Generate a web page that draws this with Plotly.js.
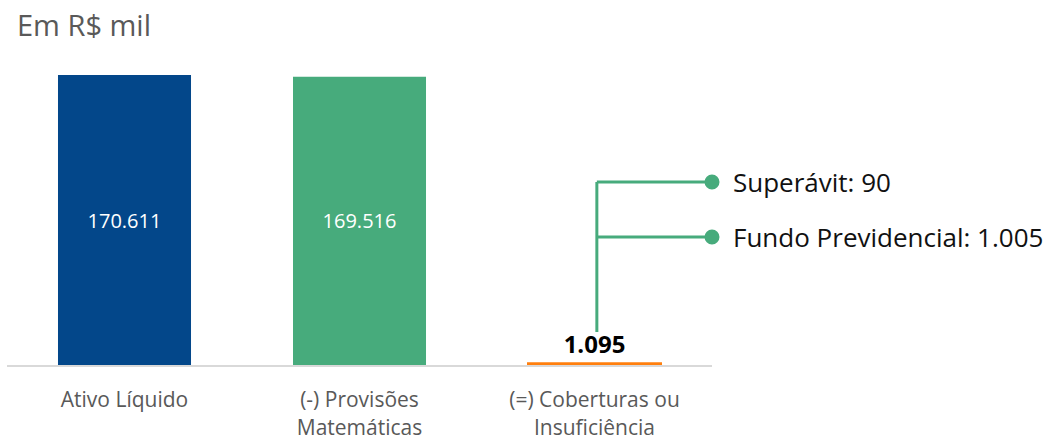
<!DOCTYPE html>
<html>
<head>
<meta charset="utf-8">
<script src="https://cdn.plot.ly/plotly-3.0.1.min.js"></script>
<style>html,body{margin:0;padding:0;background:#fff;}#chart{width:1051px;height:439px;}</style>
</head>
<body>
<div id="chart"></div>
<script>
// ---- data ----
const categories = ['Ativo Líquido', '(-) Provisões<br>Matemáticas', '(=) Coberturas ou<br>Insuficiência'];
const values = [170611, 169516, 1095];
const barColors = ['#03478A', '#47AB7C', '#FF7F0E'];
const breakdownLabels = ['Superávit', 'Fundo Previdencial'];
const breakdownValues = [90, 1005];
const unitLabel = 'Em R$ mil';

function fmt(n) {
  return String(Math.round(n)).replace(/\B(?=(\d{3})+(?!\d))/g, '.');
}

// plot area geometry (pixels)
const H = 439, TOP = 60, BOTTOM = 365;
const py = p => (BOTTOM - p) / (BOTTOM - TOP); // pixel y -> paper y
const green = '#47AB7C';
const lineX = 2.01;
const endX = 2.5;
const rowY = [py(182), py(237)];

const trace = {
  type: 'bar',
  x: categories,
  y: values,
  marker: {
    color: barColors,
    line: { color: barColors, width: [0, 0, 2] }
  },
  texttemplate: ['%{y:,.0f}', '%{y:,.0f}', '<b>%{y:,.0f}</b>'],
  textposition: ['inside', 'inside', 'outside'],
  insidetextanchor: 'middle',
  textfont: { family: 'Open Sans', size: [20, 20, 24], color: ['#ffffff', '#ffffff', '#000000'] },
  constraintext: 'none',
  cliponaxis: false,
  hoverinfo: 'skip'
};

const shapes = [
  { type: 'line', xref: 'x', yref: 'paper', x0: lineX, x1: lineX, y0: py(332), y1: rowY[0],
    line: { color: green, width: 3 } }
];
const annotations = [];
breakdownLabels.forEach((lab, i) => {
  shapes.push({ type: 'line', xref: 'x', yref: 'paper', x0: lineX, x1: endX, y0: rowY[i], y1: rowY[i],
    line: { color: green, width: 3 } });
  shapes.push({ type: 'circle', xref: 'paper', yref: 'paper', xsizemode: 'pixel', ysizemode: 'pixel',
    xanchor: 1, yanchor: rowY[i], x0: -7.5, x1: 7.5, y0: -7.5, y1: 7.5,
    fillcolor: green, line: { width: 0 } });
  annotations.push({ xref: 'x', yref: 'paper', x: endX, y: rowY[i], xanchor: 'left', yanchor: 'middle',
    xshift: 19, showarrow: false, text: lab + ': ' + fmt(breakdownValues[i]),
    font: { family: 'Open Sans', size: 26, color: '#111111' } });
});

const layout = {
  width: 1051, height: H,
  margin: { l: 7, r: 339, t: TOP, b: H - BOTTOM, pad: 0 },
  paper_bgcolor: '#ffffff', plot_bgcolor: 'rgba(0,0,0,0)',
  separators: ',.',
  showlegend: false,
  bargap: 0.434,
  title: { text: unitLabel, xref: 'container', yref: 'container', x: 17 / 1051, xanchor: 'left',
    y: 1 - 26 / H, yanchor: 'middle', font: { family: 'Open Sans', size: 29, color: '#595959' } },
  xaxis: {
    type: 'category', range: [-0.5, 2.5], showline: true, linecolor: '#d9d9d9', linewidth: 2,
    showgrid: false, zeroline: false, ticks: '', ticklabelstandoff: 15,
    tickfont: { family: 'Open Sans', size: 21, color: '#595959' }, fixedrange: true
  },
  yaxis: {
    range: [0, 170611 * (BOTTOM - TOP) / 290], visible: false, showgrid: false, zeroline: false, fixedrange: true
  },
  shapes: shapes,
  annotations: annotations,
  font: { family: 'Open Sans' }
};

Plotly.newPlot('chart', [trace], layout, { displayModeBar: false, staticPlot: true });
</script>
</body>
</html>
